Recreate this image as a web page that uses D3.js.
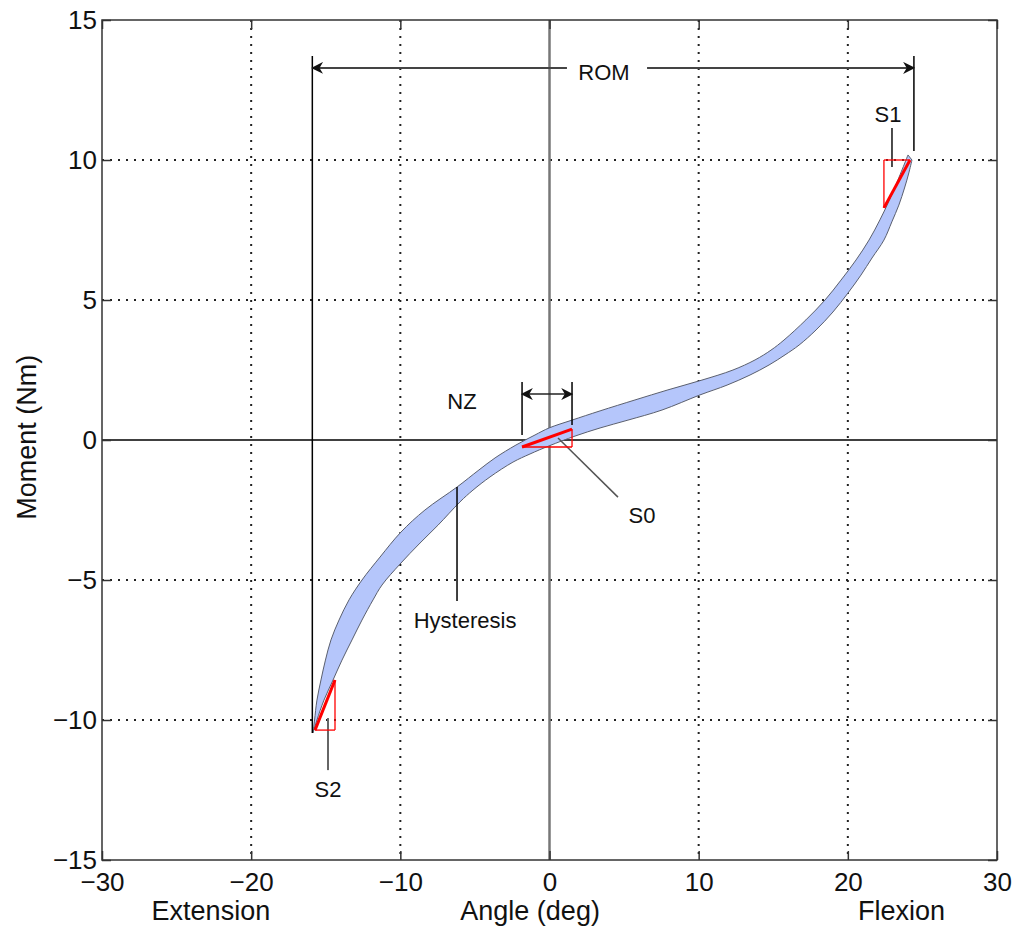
<!DOCTYPE html>
<html>
<head>
<meta charset="utf-8">
<script src="https://cdn.jsdelivr.net/npm/d3@7"></script>
<style>
    body { margin: 0; background: #fff; }
    svg text { font-family: "Liberation Sans", Arial, sans-serif; fill: #111; }
</style>
</head>
<body>
<div id="chart"></div>
<script>
(function (window) {

    // axis ticks
    const xTicks = [-30, -20, -10, 0, 10, 20, 30];
    const yTicks = [-15, -10, -5, 0, 5, 10, 15];

    // upper (left) edge of the hysteresis loop, deg / Nm
    const upperAngle = [-15.85, -15.75, -15.59, -15.32, -15.02, -14.65, -14.11, -13.44, -12.57, -11.36, -9.96, -8.35, -6.20, -4.73, -3.65, -2.25, -0.97, -0.03, 1.51, 3.39, 5.73, 7.94, 10.22, 12.30, 13.78, 14.85, 15.72, 17.19, 18.47, 19.54, 20.55, 21.42, 22.15, 22.79, 23.36, 23.90, 24.03];
    const upperMoment = [-10.46, -10.00, -9.29, -8.57, -7.86, -7.14, -6.43, -5.71, -5.00, -4.18, -3.29, -2.50, -1.68, -1.07, -0.64, -0.18, 0.18, 0.43, 0.71, 1.04, 1.43, 1.79, 2.14, 2.50, 2.86, 3.21, 3.57, 4.29, 5.00, 5.71, 6.43, 7.14, 7.86, 8.57, 9.29, 10.00, 10.18];

    // lower (right) edge of the loop
    const lowerAngle = [-15.85, -15.59, -15.12, -14.51, -13.91, -13.24, -12.57, -11.83, -11.23, -10.02, -8.68, -7.47, -6.00, -5.13, -3.99, -2.45, -1.31, -0.03, 1.71, 3.39, 5.26, 7.54, 10.09, 11.90, 13.44, 14.72, 15.79, 16.73, 17.87, 19.00, 20.01, 20.88, 21.62, 22.42, 22.95, 23.42, 23.80, 24.07, 24.30];
    const lowerMoment = [-10.46, -10.00, -9.29, -8.57, -7.86, -7.14, -6.43, -5.71, -5.18, -4.43, -3.68, -3.04, -2.21, -1.79, -1.32, -0.79, -0.50, -0.21, 0.14, 0.43, 0.71, 1.07, 1.61, 1.96, 2.32, 2.68, 3.04, 3.39, 3.93, 4.57, 5.25, 5.89, 6.50, 7.14, 7.79, 8.39, 9.00, 9.50, 10.00];

    // stiffness triangles [x0, y0, x1, y1]
    const s0 = [-1.84, -0.25, 1.51, 0.39];
    const s1 = [22.42, 8.29, 24.17, 10.0];
    const s2 = [-15.72, -10.36, -14.38, -8.57];

    const rom = [-15.9, 24.43];
    const nz = [-1.84, 1.51];

    const COLORS = {
        band: '#b5c6fb',
        bandEdge: '#5a5f6e',
        red: '#ff0000',
        axis: '#333',
        grid: '#222',
        zero: '#777'
    };

    const totalW = 1014, totalH = 931;
    const margin = { top: 20, right: 17, bottom: 71, left: 102 };
    const width = totalW - margin.left - margin.right;
    const height = totalH - margin.top - margin.bottom;

    const root = d3.select('#chart').append('svg')
        .attr('width', totalW)
        .attr('height', totalH);

    const defs = root.append('defs');
    defs.append('marker')
        .attr('id', 'arrow')
        .attr('viewBox', '0 0 10 10')
        .attr('refX', 9)
        .attr('refY', 5)
        .attr('markerWidth', 12)
        .attr('markerHeight', 12)
        .attr('markerUnits', 'userSpaceOnUse')
        .attr('orient', 'auto-start-reverse')
        .append('path')
        .attr('d', 'M0,0 L10,5 L0,10 L3,5 Z')
        .attr('fill', '#111');

    const svg = root.append('g')
        .attr('transform', `translate(${margin.left},${margin.top})`);

    const x = d3.scaleLinear().domain([-30, 30]).range([0, width]);
    const y = d3.scaleLinear().domain([-15, 15]).range([height, 0]);

    // dotted grid
    const grid = svg.append('g').attr('class', 'grid');
    grid.selectAll('.gx')
        .data(xTicks.filter(d => d !== 0 && Math.abs(d) !== 30))
        .enter().append('line')
        .attr('x1', d => x(d)).attr('x2', d => x(d))
        .attr('y1', 0).attr('y2', height)
        .attr('stroke', COLORS.grid)
        .attr('stroke-width', 2)
        .attr('stroke-dasharray', '2,6');
    grid.selectAll('.gy')
        .data(yTicks.filter(d => d !== 0 && Math.abs(d) !== 15))
        .enter().append('line')
        .attr('x1', 0).attr('x2', width)
        .attr('y1', d => y(d)).attr('y2', d => y(d))
        .attr('stroke', COLORS.grid)
        .attr('stroke-width', 2)
        .attr('stroke-dasharray', '2,6');

    // zero lines
    svg.append('line')
        .attr('x1', 0).attr('x2', width)
        .attr('y1', y(0)).attr('y2', y(0))
        .attr('stroke', '#000').attr('stroke-width', 1.5);
    svg.append('line')
        .attr('x1', x(0)).attr('x2', x(0))
        .attr('y1', 0).attr('y2', height)
        .attr('stroke', COLORS.zero).attr('stroke-width', 2.5);

    // hysteresis band: upper edge tip -> top, then lower edge back to the tip
    const upper = upperAngle.map((a, i) => [a, upperMoment[i]]);
    const lower = lowerAngle.map((a, i) => [a, lowerMoment[i]]);
    const edge = d3.line()
        .x(d => x(d[0]))
        .y(d => y(d[1]))
        .curve(d3.curveCatmullRom.alpha(0.5));
    const bandPath = edge(upper) + edge(lower.slice().reverse()).replace(/^M/, 'L') + 'Z';

    svg.append('path')
        .attr('d', bandPath)
        .attr('fill', COLORS.band)
        .attr('stroke', COLORS.bandEdge)
        .attr('stroke-width', 1);

    const seg = (x1, y1, x2, y2) => svg.append('line')
        .attr('x1', x(x1)).attr('y1', y(y1))
        .attr('x2', x(x2)).attr('y2', y(y2));

    // ROM
    seg(rom[0], 13.71, rom[0], -10.46).attr('stroke', '#000').attr('stroke-width', 1.5);
    seg(rom[1], 13.71, rom[1], 10.32).attr('stroke', '#000').attr('stroke-width', 1.5);
    seg(1.17, 13.29, rom[0], 13.29).attr('stroke', '#444').attr('stroke-width', 2).attr('marker-end', 'url(#arrow)');
    seg(6.54, 13.29, rom[1], 13.29).attr('stroke', '#444').attr('stroke-width', 2).attr('marker-end', 'url(#arrow)');

    // NZ
    seg(nz[0], 2.07, nz[0], 0.18).attr('stroke', '#000').attr('stroke-width', 1.5);
    seg(nz[1], 2.07, nz[1], 0.54).attr('stroke', '#000').attr('stroke-width', 1.5);
    seg(nz[0], 1.64, nz[1], 1.64).attr('stroke', '#222').attr('stroke-width', 1.5)
        .attr('marker-start', 'url(#arrow)').attr('marker-end', 'url(#arrow)');

    // leaders
    seg(0.57, 0.07, 4.59, -2.04).attr('stroke', '#555').attr('stroke-width', 1.5);
    seg(22.96, 11.14, 22.96, 9.75).attr('stroke', '#111').attr('stroke-width', 1.5);
    seg(-14.85, -9.93, -14.85, -11.79).attr('stroke', '#666').attr('stroke-width', 2);
    seg(-6.2, -1.68, -6.2, -5.75).attr('stroke', '#000').attr('stroke-width', 1.5);

    // stiffness triangles
    const triangle = function(t, legY, legX) {
        seg(t[0], legY, t[2], legY).attr('stroke', COLORS.red).attr('stroke-width', 1.3);
        seg(legX, t[1], legX, t[3]).attr('stroke', COLORS.red).attr('stroke-width', 1.3);
        seg(t[0], t[1], t[2], t[3]).attr('stroke', COLORS.red).attr('stroke-width', 3);
    };
    triangle(s0, s0[1], s0[2]);
    triangle(s1, s1[3], s1[0]);
    triangle(s2, s2[1], s2[2]);

    // annotation labels
    const note = (tx, ty, label) => svg.append('text')
        .attr('x', x(tx)).attr('y', y(ty))
        .attr('text-anchor', 'middle')
        .attr('font-size', 22)
        .text(label);
    note(3.65, 12.86, 'ROM');
    note(-5.87, 1.11, 'NZ');
    note(6.2, -2.96, 'S0');
    note(22.69, 11.36, 'S1');
    note(-14.85, -12.75, 'S2');
    note(-5.66, -6.71, 'Hysteresis');

    // axes with inward ticks
    const styleAxis = function(g) {
        g.select('.domain').remove();
        g.selectAll('.tick line').attr('stroke', COLORS.axis).attr('stroke-width', 1.5);
        g.selectAll('.tick text').attr('font-size', 26).attr('fill', '#111')
            .style('font-family', '"Liberation Sans", Arial, sans-serif');
    };

    svg.append('g')
        .attr('transform', `translate(0,${height})`)
        .call(d3.axisBottom(x).tickValues(xTicks).tickSizeInner(-9).tickSizeOuter(0).tickPadding(13))
        .call(styleAxis);
    svg.append('g')
        .call(d3.axisTop(x).tickValues(xTicks).tickSizeInner(-9).tickSizeOuter(0).tickFormat(''))
        .call(styleAxis);
    svg.append('g')
        .call(d3.axisLeft(y).tickValues(yTicks).tickSizeInner(-9).tickSizeOuter(0).tickPadding(5))
        .call(styleAxis);
    svg.append('g')
        .attr('transform', `translate(${width},0)`)
        .call(d3.axisRight(y).tickValues(yTicks).tickSizeInner(-9).tickSizeOuter(0).tickFormat(''))
        .call(styleAxis);

    svg.append('rect')
        .attr('x', 0).attr('y', 0)
        .attr('width', width).attr('height', height)
        .attr('fill', 'none')
        .attr('stroke', COLORS.axis)
        .attr('stroke-width', 1.5);

    // axis labels
    const xLabels = [
        { text: 'Extension', at: -22.7 },
        { text: 'Angle (deg)', at: -1.3 },
        { text: 'Flexion', at: 23.6 }
    ];
    svg.selectAll('.xlabel')
        .data(xLabels)
        .enter().append('text')
        .attr('class', 'xlabel')
        .attr('x', d => x(d.at))
        .attr('y', height + 60)
        .attr('text-anchor', 'middle')
        .attr('font-size', 27)
        .text(d => d.text);

    svg.append('text')
        .attr('transform', `translate(${-66},${y(0.1)}) rotate(-90)`)
        .attr('text-anchor', 'middle')
        .attr('font-size', 27)
        .text('Moment (Nm)');

})(window);
</script>
</body>
</html>
